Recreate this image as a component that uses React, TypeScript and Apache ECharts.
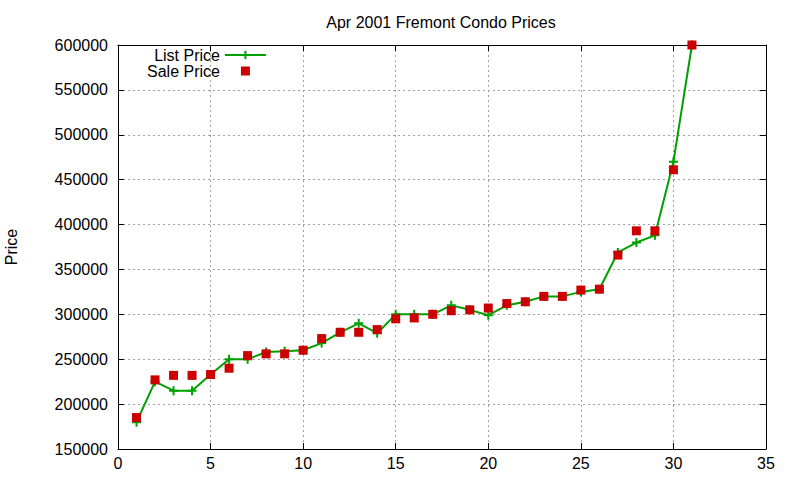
import { useEffect, useRef } from 'react'
import * as echarts from 'echarts'

const days = [1, 2, 3, 4, 5, 6, 7, 8, 9, 10, 11, 12, 13, 14, 15, 16, 17, 18, 19, 20, 21, 22, 23, 24, 25, 26, 27, 28, 29, 30, 31]
const listPrice = [
  179900, 225000, 215000, 215000, 233000, 250000, 250000, 258000, 259000, 260000,
  268000, 280000, 290000, 279000, 300000, 300000, 300000, 310000, 305000, 299000,
  310000, 314000, 320000, 320000, 325000, 328000, 369000, 380000, 388000, 470000, 600000,
]
const salePrice = [
  185000, 227000, 232000, 232000, 233000, 240000, 254000, 256000, 256000, 260000,
  273000, 280000, 280000, 283000, 295000, 296000, 300000, 304000, 305000, 307000,
  312000, 314000, 320000, 320000, 327000, 328000, 366000, 393000, 393000, 461000, 600000,
]

const FONT = '"Liberation Sans", Arial, sans-serif'
const GREEN = '#00a000'
const RED = '#cc0000'
const PLUS = 'path://M0,5L10,5M5,0L5,10'
// square in the middle of a 41x10 box, so it sits where the line's cross sits
const SALE_ICON = 'path://M0,0M41,10M16,0.5h9v9h-9z'

export default function App() {
  const chartRef = useRef<HTMLDivElement | null>(null)

  useEffect(() => {
    if (!chartRef.current) return
    const chart = echarts.init(chartRef.current, null, { renderer: 'svg' })

    const gridLine = { show: true, lineStyle: { color: '#a0a0a0', type: [2, 3] as number[], width: 1 } }
    const axisLine = { show: true, onZero: false, lineStyle: { color: '#000', width: 1 } }
    const tick = { show: true, inside: true, length: 6, lineStyle: { color: '#000' } }
    const label = { color: '#000', fontSize: 16, fontFamily: FONT }

    chart.setOption({
      animation: false,
      textStyle: { fontFamily: FONT },
      title: {
        text: 'Apr 2001 Fremont Condo Prices',
        left: 436,
        top: 9,
        textAlign: 'center',
        textStyle: { fontSize: 16, fontWeight: 'normal', color: '#000', fontFamily: FONT },
      },
      legend: {
        orient: 'vertical',
        align: 'right',
        left: 142,
        top: 42,
        itemWidth: 41,
        itemHeight: 10,
        itemGap: 0,
        textStyle: { fontSize: 16, color: '#000', fontFamily: FONT },
        data: ['List Price', { name: 'Sale Price', icon: SALE_ICON }],
      },
      grid: { left: 118, right: 34, top: 45, bottom: 31, outerBoundsMode: 'none', containLabel: false },
      xAxis: [
        {
          type: 'value', min: 0, max: 35, interval: 5,
          axisLine, axisTick: tick, axisLabel: { ...label, margin: 6 }, splitLine: gridLine,
        },
        {
          type: 'value', position: 'top', min: 0, max: 35, interval: 5,
          axisLine, axisTick: tick, axisLabel: { show: false }, splitLine: { show: false },
        },
      ],
      yAxis: [
        {
          type: 'value', min: 150000, max: 600000, interval: 50000,
          name: 'Price', nameLocation: 'middle', nameRotate: 90, nameGap: 99,
          nameTextStyle: { fontSize: 16, color: '#000', fontFamily: FONT },
          axisLine, axisTick: tick,
          axisLabel: { ...label, margin: 10, formatter: (v: number) => String(v) },
          splitLine: gridLine,
        },
        {
          type: 'value', position: 'right', min: 150000, max: 600000, interval: 50000,
          axisLine, axisTick: tick, axisLabel: { show: false }, splitLine: { show: false },
        },
      ],
      series: [
        {
          name: 'List Price',
          type: 'line',
          data: days.map((d, i) => [d, listPrice[i]]),
          symbol: PLUS,
          symbolSize: 9,
          showAllSymbol: true,
          lineStyle: { color: GREEN, width: 2 },
          itemStyle: { color: GREEN, borderColor: GREEN, borderWidth: 2 },
          z: 2,
        },
        {
          name: 'Sale Price',
          type: 'scatter',
          data: days.map((d, i) => [d, salePrice[i]]),
          symbol: 'rect',
          symbolSize: 9,
          itemStyle: { color: RED, opacity: 1 },
          z: 3,
        },
      ],
    })

    return () => chart.dispose()
  }, [])

  return (
    <div
      ref={chartRef}
      style={{ position: 'fixed', left: 0, top: 0, width: 800, height: 480, background: '#fff' }}
    />
  )
}
